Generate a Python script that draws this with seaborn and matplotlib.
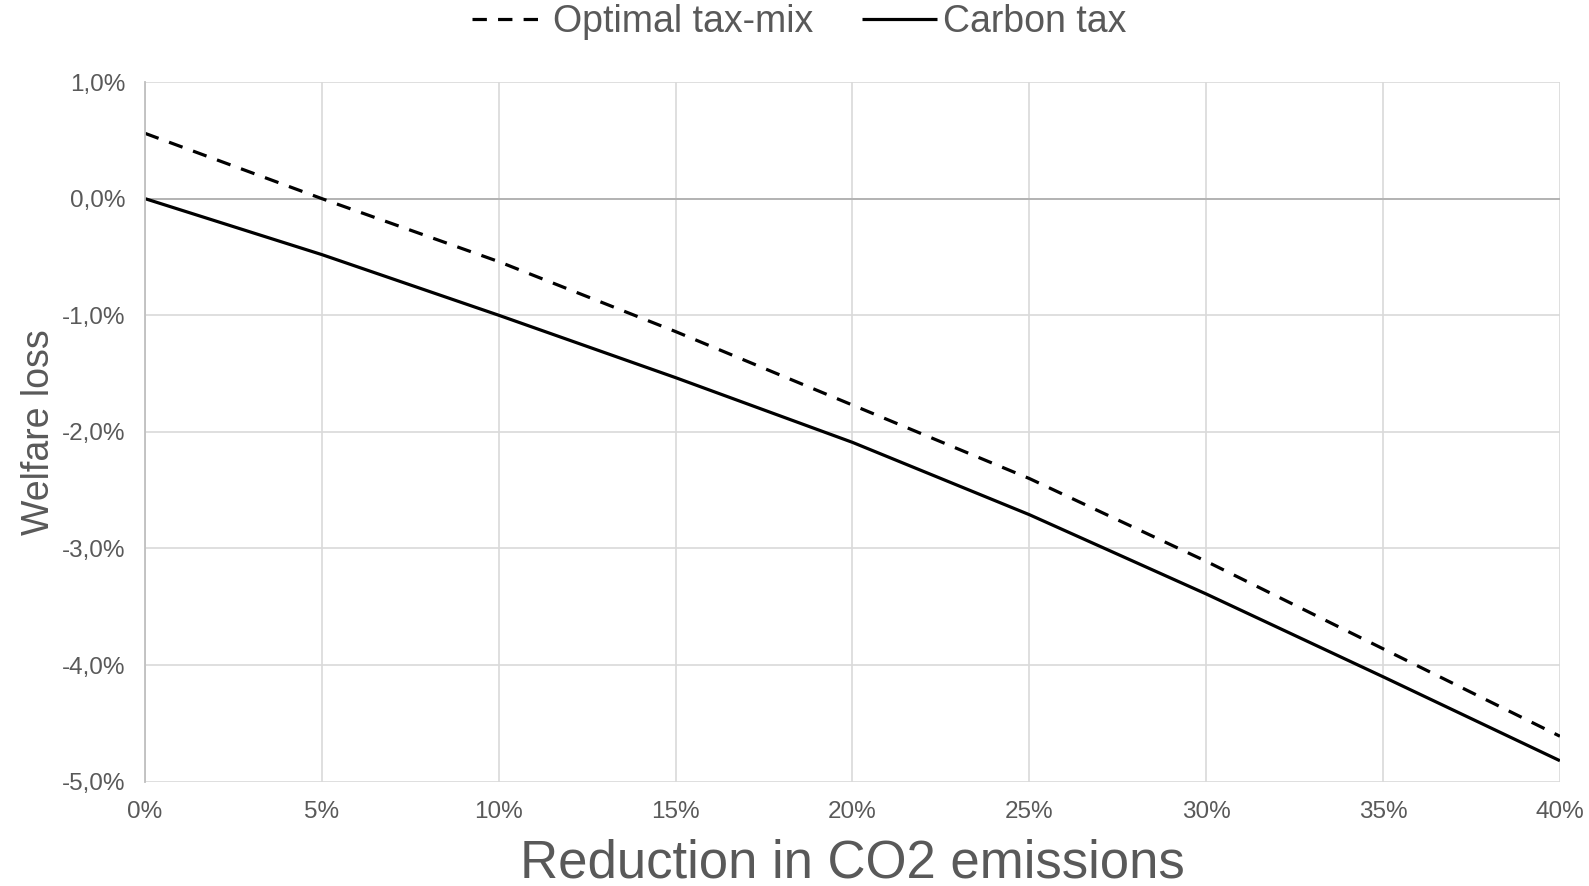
import pandas as pd
import seaborn as sns
from matplotlib import pyplot as plt
from matplotlib.ticker import FuncFormatter

# values (percent)
reduction = [0, 5, 10, 15, 20, 25, 30, 35, 40]
optimal_mix = [0.56, 0.00, -0.54, -1.14, -1.77, -2.40, -3.11, -3.86, -4.61]
carbon_tax = [0.00, -0.48, -1.00, -1.535, -2.09, -2.71, -3.39, -4.10, -4.82]

series_order = ["Optimal tax-mix", "Carbon tax"]

data = pd.concat(
    [
        pd.DataFrame({"reduction": reduction, "loss": optimal_mix, "Series": "Optimal tax-mix"}),
        pd.DataFrame({"reduction": reduction, "loss": carbon_tax, "Series": "Carbon tax"}),
    ],
    ignore_index=True,
)

sns.set_theme(style="white")
plt.rcParams["font.family"] = ["Liberation Sans", "DejaVu Sans"]

fig = plt.figure(figsize=(15.89, 8.86), dpi=100)
ax = fig.add_axes([0.0913, 0.1177, 0.8904, 0.7897])

text_grey = "#595959"

sns.lineplot(
    data=data,
    x="reduction",
    y="loss",
    hue="Series",
    style="Series",
    hue_order=series_order,
    style_order=series_order,
    palette={"Optimal tax-mix": "black", "Carbon tax": "black"},
    dashes={"Optimal tax-mix": (4.5, 3.5), "Carbon tax": ""},
    linewidth=2.3,
    ax=ax,
    legend=True,
)
for line in ax.get_lines():
    line.set_dash_capstyle("butt")
    line.set_solid_capstyle("butt")

ax.set_xlim(0, 40)
ax.set_ylim(-5, 1)
ax.set_xticks(range(0, 41, 5))
ax.set_yticks(range(-5, 2, 1))
ax.xaxis.set_major_formatter(FuncFormatter(lambda v, p: f"{v:.0f}%"))
ax.yaxis.set_major_formatter(FuncFormatter(lambda v, p: f"{v:.1f}%".replace(".", ",")))

ax.grid(True, color="#d9d9d9", linewidth=1.2)
ax.set_axisbelow(True)
ax.axhline(0, color="#b0b0b0", linewidth=1.3, zorder=1)
for side in ["top", "right", "bottom"]:
    ax.spines[side].set_visible(False)
ax.spines["left"].set_color("#bfbfbf")
ax.spines["left"].set_linewidth(1.3)

ax.tick_params(axis="both", length=0, labelsize=17.5, labelcolor=text_grey)
ax.tick_params(axis="y", pad=14)
ax.tick_params(axis="x", pad=14)

ax.set_xlabel("Reduction in CO2 emissions", fontsize=38, color=text_grey, labelpad=11)
ax.set_ylabel("Welfare loss", fontsize=27, color=text_grey, labelpad=4)

handles, labels = ax.get_legend_handles_labels()
ax.legend(
    handles,
    labels,
    loc="center",
    bbox_to_anchor=(0.503, 0.975),
    bbox_transform=fig.transFigure,
    ncol=2,
    frameon=False,
    fontsize=27,
    handlelength=2.0,
    handletextpad=0.15,
    columnspacing=1.3,
    labelcolor=text_grey,
)

fig.savefig("out.png", dpi=100)
